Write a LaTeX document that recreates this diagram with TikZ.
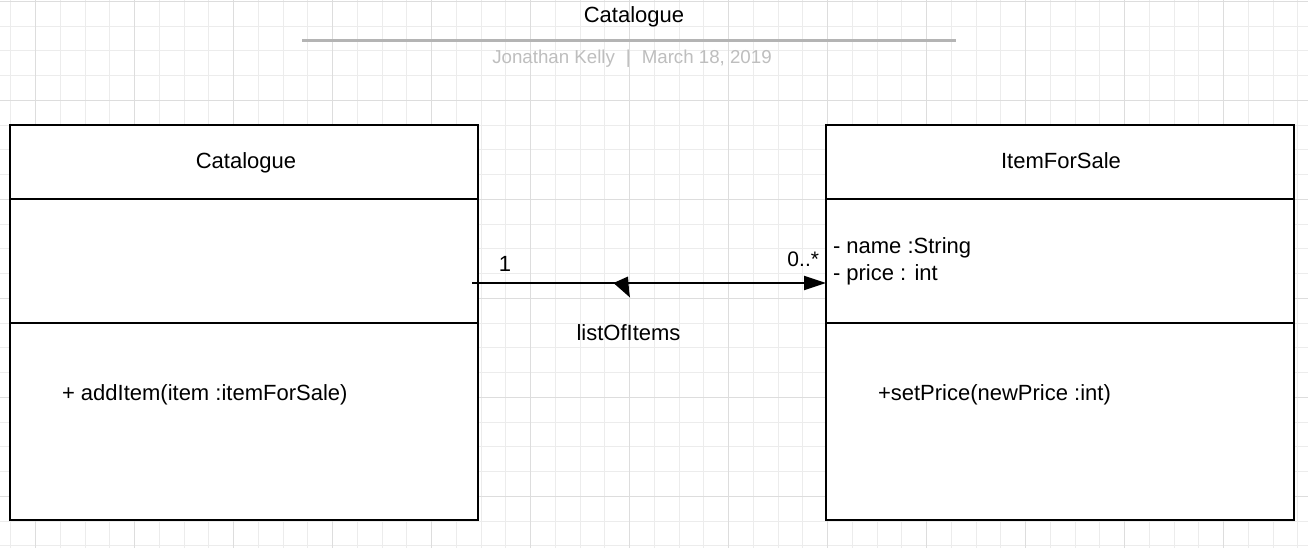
\documentclass[tikz,border=0pt]{standalone}
\usepackage{fontspec}
\setmainfont{Liberation Sans}
\usetikzlibrary{arrows.meta}
\definecolor{gridminor}{RGB}{236,236,236}
\definecolor{gridmajor}{RGB}{221,221,221}
\definecolor{titlerule}{RGB}{180,180,180}
\definecolor{subtitle}{RGB}{190,190,190}
\begin{document}
\begin{tikzpicture}[x=1pt,y=-1pt,
  compart/.style={draw=black, line width=2pt, fill=white, inner sep=0pt, outer sep=0pt, minimum width=468pt},
  txt/.style={font=\fontsize{22}{26}\selectfont, inner sep=0pt, outer sep=0pt, text=black},
  subtxt/.style={font=\fontsize{18.7}{22}\selectfont, inner sep=0pt, outer sep=0pt, text=subtitle},
  conn/.style={draw=black, line width=2pt}]
\useasboundingbox (0,0) rectangle (1308,548);
\fill[white] (0,0) rectangle (1308,548);
% grid
\foreach \i in {0,...,52} {\draw[gridminor, line width=1pt] ({10.75+24.75*\i},0) -- ({10.75+24.75*\i},548);}
\foreach \j in {0,...,22} {\draw[gridminor, line width=1pt] (0,{1.3+24.75*\j}) -- (1308,{1.3+24.75*\j});}
\foreach \i in {0,...,12} {\draw[gridmajor, line width=1pt] ({35.5+99*\i},0) -- ({35.5+99*\i},548);}
\foreach \j in {0,...,5} {\draw[gridmajor, line width=1pt] (0,{1.3+99*\j}) -- (1308,{1.3+99*\j});}
% title block
\node[txt, anchor=base] (title) at (634,23) {Catalogue};
\draw[titlerule, line width=3pt] (302,40.5) -- (956,40.5);
\node[subtxt, anchor=base] (sub) at (632,64) {Jonathan Kelly\hspace{11pt}|\hspace{11pt}March 18, 2019};
% Catalogue class
\node[compart, minimum height=74pt] (cathead) at (244,162) {};
\node[compart, minimum height=124pt] (catattr) at (244,261) {};
\node[compart, minimum height=197pt] (catops) at (244,421.5) {};
\node[txt, anchor=base] (catname) at (246,168) {Catalogue};
\node[txt, anchor=base west] (catop1) at (62,400) {+ addItem(item :itemForSale)};
% ItemForSale class
\node[compart, minimum height=74pt] (itemhead) at (1060,162) {};
\node[compart, minimum height=124pt] (itemattr) at (1060,261) {};
\node[compart, minimum height=197pt] (itemops) at (1060,421.5) {};
\node[txt, anchor=base] (itemname) at (1061,168) {ItemForSale};
\node[txt, anchor=base west] (attr1) at (833,253) {- name :String};
\node[txt, anchor=base west] (attr2) at (833,280) {- price : int};
\node[txt, anchor=base west] (itemop1) at (878,400) {+setPrice(newPrice :int)};
% association
\coordinate (assocstart) at (472,283);
\draw[conn, -{Triangle[length=22pt,width=14pt]}] (assocstart) -- (itemattr.west |- assocstart);
\coordinate (mid) at (613.5,283);
\fill[black] (mid) -- ++(14.5,-6.5) -- ++(1,13.5) -- ++(1,7.5) -- cycle;
\node[txt, anchor=base] (mult1) at (505,271) {1};
\node[txt, anchor=base east, font=\fontsize{21}{25}\selectfont] (multn) at (819,266) {0..*};
\node[txt, anchor=base] (assocname) at (628.5,340.5) {listOfItems};
\end{tikzpicture}
\end{document}
